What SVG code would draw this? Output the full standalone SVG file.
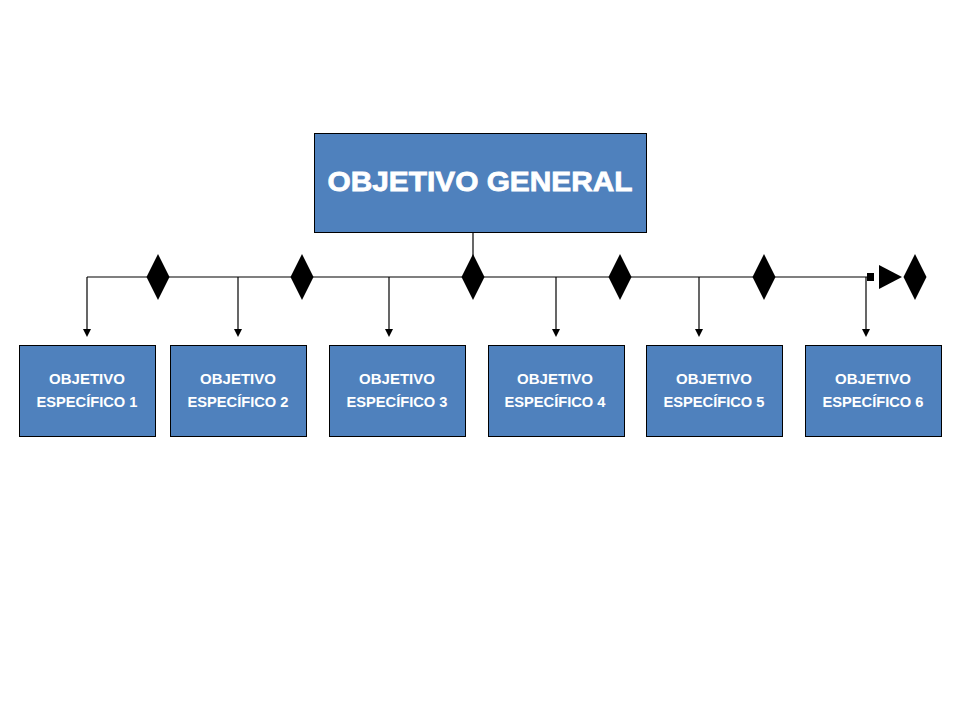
<svg xmlns="http://www.w3.org/2000/svg" width="960" height="720" viewBox="0 0 960 720">
<style>
.box{fill:#4F81BD;stroke:#000;stroke-width:1}
.t{font-family:"Liberation Sans",Arial,sans-serif;font-weight:bold;fill:#fff;text-anchor:middle}
.s{font-size:15px}
.ln{stroke:#000;stroke-width:1.2;fill:none}
.dm{fill:#000}
</style>
<defs>
<path id="dia" d="M0,-23 L11.5,0 L0,23 L-11.5,0 Z"/>
<path id="arr" d="M-4,0 L4,0 L0,8 Z"/>
</defs>
<rect width="960" height="720" fill="#fff"/>
<g id="connectors">
<line class="ln" x1="473" y1="232" x2="473" y2="277"/>
<line class="ln" x1="87" y1="277" x2="870" y2="277"/>
<path class="ln" d="M87,277 V329"/>
<path class="ln" d="M238,277 V329"/>
<path class="ln" d="M389,277 V329"/>
<path class="ln" d="M556,277 V329"/>
<path class="ln" d="M699,277 V329"/>
<path class="ln" d="M866,277 V329"/>
<use href="#arr" class="dm" x="87" y="329"/>
<use href="#arr" class="dm" x="238" y="329"/>
<use href="#arr" class="dm" x="389" y="329"/>
<use href="#arr" class="dm" x="556" y="329"/>
<use href="#arr" class="dm" x="699" y="329"/>
<use href="#arr" class="dm" x="866" y="329"/>
<use href="#dia" class="dm" x="158" y="277"/>
<use href="#dia" class="dm" x="302" y="277"/>
<use href="#dia" class="dm" x="473" y="277"/>
<use href="#dia" class="dm" x="620" y="277"/>
<use href="#dia" class="dm" x="764" y="277"/>
<use href="#dia" class="dm" x="915" y="277"/>
<rect class="dm" x="867" y="273" width="7" height="8"/>
<path class="dm" d="M879,265 L902,277 L879,289 Z"/>
</g>
<g id="general">
<rect class="box" x="314.5" y="133.5" width="332" height="99"/>
<text class="t" x="480" y="191" font-size="28" stroke="#fff" stroke-width="0.8" textLength="305" lengthAdjust="spacingAndGlyphs">OBJETIVO GENERAL</text>
</g>
<g id="e1">
<rect class="box" x="19.5" y="345.5" width="136" height="91"/>
<text class="t s" x="87" y="384">OBJETIVO</text>
<text class="t s" x="87" y="407" textLength="101" lengthAdjust="spacingAndGlyphs">ESPECÍFICO 1</text>
</g>
<g id="e2">
<rect class="box" x="170.5" y="345.5" width="136" height="91"/>
<text class="t s" x="238" y="384">OBJETIVO</text>
<text class="t s" x="238" y="407" textLength="101" lengthAdjust="spacingAndGlyphs">ESPECÍFICO 2</text>
</g>
<g id="e3">
<rect class="box" x="329.5" y="345.5" width="136" height="91"/>
<text class="t s" x="397" y="384">OBJETIVO</text>
<text class="t s" x="397" y="407" textLength="101" lengthAdjust="spacingAndGlyphs">ESPECÍFICO 3</text>
</g>
<g id="e4">
<rect class="box" x="488.5" y="345.5" width="136" height="91"/>
<text class="t s" x="555" y="384">OBJETIVO</text>
<text class="t s" x="555" y="407" textLength="101" lengthAdjust="spacingAndGlyphs">ESPECÍFICO 4</text>
</g>
<g id="e5">
<rect class="box" x="646.5" y="345.5" width="136" height="91"/>
<text class="t s" x="714" y="384">OBJETIVO</text>
<text class="t s" x="714" y="407" textLength="101" lengthAdjust="spacingAndGlyphs">ESPECÍFICO 5</text>
</g>
<g id="e6">
<rect class="box" x="805.5" y="345.5" width="136" height="91"/>
<text class="t s" x="873" y="384">OBJETIVO</text>
<text class="t s" x="873" y="407" textLength="101" lengthAdjust="spacingAndGlyphs">ESPECÍFICO 6</text>
</g>
</svg>
